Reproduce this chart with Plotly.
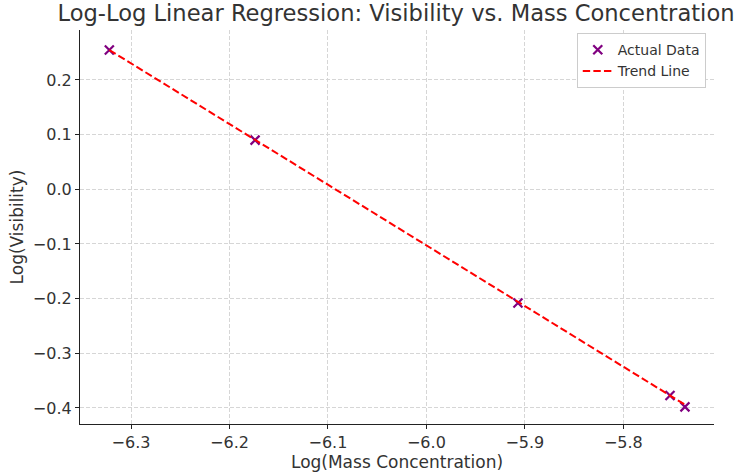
import plotly.graph_objects as go

log_mass = [-6.322, -6.174, -5.907, -5.7526, -5.7374]
log_vis = [0.2548, 0.090, -0.208, -0.377, -0.398]

trend_x = [-6.322, -5.7374]
trend_y = [0.2548, -0.394]

x_ticks = [-6.3, -6.2, -6.1, -6.0, -5.9, -5.8]
y_ticks = [0.2, 0.1, 0.0, -0.1, -0.2, -0.3, -0.4]

txt = "#333333"
font = "DejaVu Sans"

fig = go.Figure()
fig.add_trace(go.Scatter(
    x=log_mass, y=log_vis, mode="markers", name="Actual Data",
    marker=dict(symbol="x-thin", size=9, color="purple",
                line=dict(width=2.2, color="purple")),
))
fig.add_trace(go.Scatter(
    x=trend_x, y=trend_y, mode="lines", name="Trend Line",
    line=dict(color="red", width=2, dash="7.4px,3.2px"),
))

def fmt(v):
    s = f"{v:.1f}"
    return s.replace("-", "\u2212")

axis_common = dict(
    showgrid=True, gridcolor="#d6d6d6", griddash="4px,2px", gridwidth=1,
    showline=True, linecolor="#222222", linewidth=1.2, mirror=False,
    ticks="outside", ticklen=4, tickcolor="#222222", tickwidth=1,
    zeroline=False, automargin=False,
    tickfont=dict(size=16, color=txt, family=font),
)

fig.update_layout(
    width=738, height=473,
    margin=dict(l=80, r=24, t=30, b=49),
    paper_bgcolor="white", plot_bgcolor="white",
    font=dict(family=font, color=txt),
    title=dict(text="Log-Log Linear Regression: Visibility vs. Mass Concentration",
               x=396 / 738, xanchor="center", y=0.99, yanchor="top",
               font=dict(size=22.6, color=txt, family=font)),
    xaxis=dict(range=[-6.3518, -5.7079], tickvals=x_ticks,
               ticktext=[fmt(v) for v in x_ticks],
               title=dict(text="Log(Mass Concentration)", standoff=3,
                          font=dict(size=17, color=txt, family=font)),
               **axis_common),
    yaxis=dict(range=[-0.4293, 0.2914], tickvals=y_ticks,
               ticktext=[fmt(v) for v in y_ticks],
               title=dict(text="Log(Visibility)", standoff=4,
                          font=dict(size=17, color=txt, family=font)),
               **axis_common),
    legend=dict(x=0.987, y=0.992, xanchor="right", yanchor="top",
                bgcolor="white", bordercolor="#cccccc", borderwidth=1,
                font=dict(size=14, color=txt, family=font)),
    showlegend=True,
)

fig.write_html("out.html", config={"displayModeBar": False},
               post_script="document.body.style.margin='0';document.body.style.padding='0';")
